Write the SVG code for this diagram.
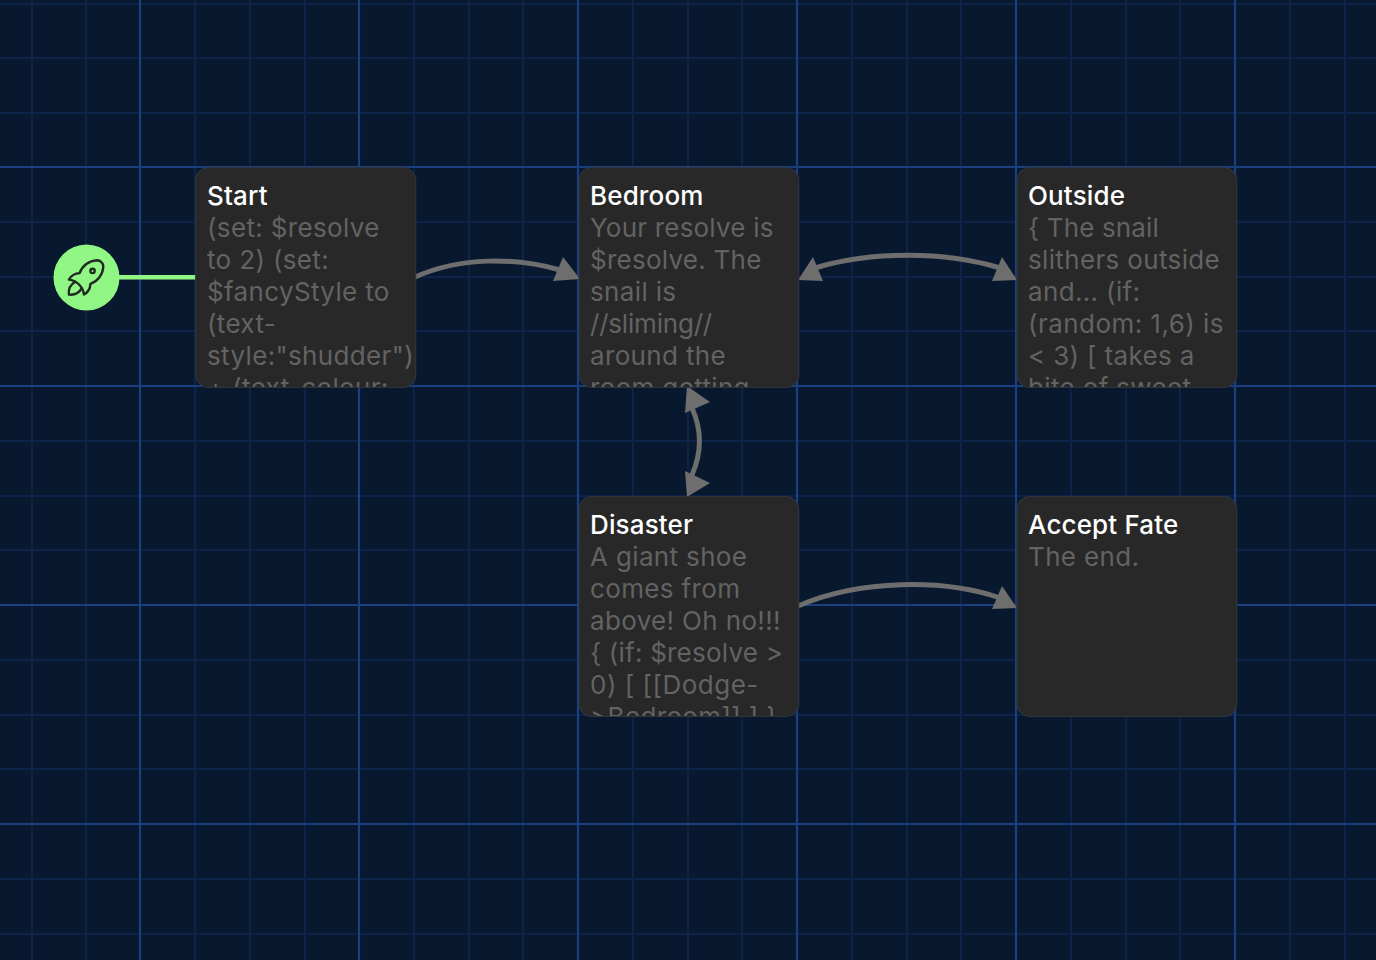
<svg xmlns="http://www.w3.org/2000/svg" width="1376" height="960" viewBox="0 0 1376 960">
<style>
.minor{stroke:#0d2349;stroke-width:2;fill:none}
.major{stroke:#1b4080;stroke-width:2.200;fill:none}
.card{fill:#282828;stroke:#30353d;stroke-width:1.200}
.title{font:500 26px Inter,"Liberation Sans",sans-serif;fill:#ffffff;letter-spacing:.15px}
.body{font:400 26px Inter,"Liberation Sans",sans-serif;fill:#636363;letter-spacing:.35px}
.edge{fill:none;stroke:#6e6e6e;stroke-width:5}
.head{fill:#6e6e6e}
.icon{fill:none;stroke:#1f2a1f;stroke-width:1.100;stroke-linecap:round;stroke-linejoin:round}
</style>
<defs>
<clipPath id="c1"><rect x="196" y="168" width="219" height="219" rx="13"/></clipPath>
<clipPath id="c2"><rect x="579.500" y="168" width="219" height="219" rx="13"/></clipPath>
<clipPath id="c3"><rect x="1017.500" y="168" width="219" height="219" rx="13"/></clipPath>
<clipPath id="c4"><rect x="579.500" y="497" width="219" height="219" rx="13"/></clipPath>
</defs>
<rect width="1376" height="960" fill="#07182f"/>
<g id="grid">
<path class="minor" d="M32 0V960M86 0V960M195 0V960M250 0V960M305 0V960M414 0V960M469 0V960M523 0V960M633 0V960M688 0V960M742 0V960M852 0V960M907 0V960M961 0V960M1071 0V960M1126 0V960M1180 0V960M1290 0V960M1345 0V960"/>
<path class="minor" d="M0 4H1376M0 58H1376M0 113H1376M0 222H1376M0 277H1376M0 331H1376M0 441H1376M0 496H1376M0 550H1376M0 660H1376M0 715H1376M0 769H1376M0 879H1376M0 934H1376"/>
<path class="major" d="M140 0V960M359 0V960M578 0V960M797 0V960M1016 0V960M1235 0V960"/>
<path class="major" d="M0 167H1376M0 386H1376M0 605H1376M0 824H1376"/>
</g>
<g id="connectors">
<path d="M119 277.300H197" fill="none" stroke="#90f785" stroke-width="4.500"/>
<path class="edge" d="M415 277C460 257 515 257 560 270"/>
<polygon class="head" points="580,279 553,281 563,257"/>
<path class="edge" d="M815 268C870 251 945 251 1000 268"/>
<polygon class="head" points="798,280 823,281 813,257"/>
<polygon class="head" points="1017,280 992,281 1002,257"/>
<path class="edge" d="M692 408C702 430 702 452 692 475"/>
<polygon class="head" points="687,386 710,402 685,413"/>
<polygon class="head" points="687,497 710,483 685,471"/>
<path class="edge" d="M798 606C860 579 945 579 1000 598"/>
<polygon class="head" points="1017,608 992,609 1002,586"/>
</g>
<g id="start-marker">
<circle cx="86.500" cy="277.500" r="33" fill="#90f785"/>
<g class="icon" transform="translate(60.300 251.600) scale(2.15)">
<path d="M4 13a8 8 0 0 1 7 7a6 6 0 0 0 3 -5a9 9 0 0 0 6 -8a3 3 0 0 0 -3 -3a9 9 0 0 0 -8 6a6 6 0 0 0 -5 3"/>
<path d="M7 14a6 6 0 0 0 -3 6a6 6 0 0 0 6 -3"/>
<circle cx="15" cy="9" r="1"/>
</g>
</g>
<g id="node-start">
<rect class="card" x="195.700" y="167.500" width="220" height="220" rx="13"/>
<g clip-path="url(#c1)">
<text class="title" x="207" y="205">Start</text>
<text class="body" x="207" y="237">(set: $resolve</text>
<text class="body" x="207" y="269">to 2) (set:</text>
<text class="body" x="207" y="301">$fancyStyle to</text>
<text class="body" x="207" y="333">(text-</text>
<text class="body" x="207" y="365">style:"shudder")</text>
<text class="body" x="207" y="397">+ (text-colour:</text>
</g>
</g>
<g id="node-bedroom">
<rect class="card" x="579" y="167.500" width="219.700" height="220" rx="13"/>
<g clip-path="url(#c2)">
<text class="title" x="590" y="205">Bedroom</text>
<text class="body" x="590" y="237" style="letter-spacing:.2px">Your resolve is</text>
<text class="body" x="590" y="269" style="letter-spacing:.25px">$resolve. The</text>
<text class="body" x="590" y="301">snail is</text>
<text class="body" x="590" y="333" style="letter-spacing:-.2px">//sliming//</text>
<text class="body" x="590" y="365">around the</text>
<text class="body" x="590" y="397">room getting</text>
</g>
</g>
<g id="node-outside">
<rect class="card" x="1017" y="167.500" width="219.700" height="220" rx="13"/>
<g clip-path="url(#c3)">
<text class="title" x="1028" y="205">Outside</text>
<text class="body" x="1028" y="237" style="letter-spacing:.15px">{ The snail</text>
<text class="body" x="1028" y="269">slithers outside</text>
<text class="body" x="1028" y="301">and... (if:</text>
<text class="body" x="1028" y="333" style="letter-spacing:.45px">(random: 1,6) is</text>
<text class="body" x="1028" y="365">&lt; 3) [ takes a</text>
<text class="body" x="1028" y="397">bite of sweet</text>
</g>
</g>
<g id="node-disaster">
<rect class="card" x="579" y="496.500" width="219.700" height="220" rx="13"/>
<g clip-path="url(#c4)">
<text class="title" x="590" y="534">Disaster</text>
<text class="body" x="590" y="566">A giant shoe</text>
<text class="body" x="590" y="598">comes from</text>
<text class="body" x="590" y="630">above! Oh no!!!</text>
<text class="body" x="590" y="662" style="letter-spacing:.22px">{ (if: $resolve &gt;</text>
<text class="body" x="590" y="694" style="letter-spacing:.5px">0) [ [[Dodge-</text>
<text class="body" x="590" y="726">&gt;Bedroom]] ] }</text>
</g>
</g>
<g id="node-accept-fate">
<rect class="card" x="1017" y="496.500" width="219.700" height="220" rx="13"/>
<text class="title" x="1028" y="534">Accept Fate</text>
<text class="body" x="1028" y="566">The end.</text>
</g>
</svg>
